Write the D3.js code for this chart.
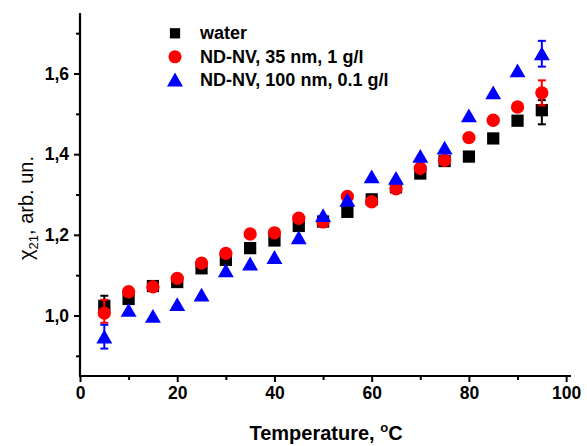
<!DOCTYPE html>
<html>
<head>
<meta charset="utf-8">
<script src="https://cdn.jsdelivr.net/npm/d3@7"></script>
<style>
  body { margin: 0; background: #fff; }
  svg text { font-family: "Liberation Sans", Arial, sans-serif; }
</style>
</head>
<body>
<div id="chart"></div>
<script>
// temperatures, deg C
var temps = [5, 10, 15, 20, 25, 30, 35, 40, 45, 50, 55, 60, 65, 70, 75, 80, 85, 90, 95];
// chi21 values
var water = [1.024, 1.041, 1.073, 1.083, 1.117, 1.138, 1.167, 1.186, 1.222, 1.233, 1.257, 1.288, 1.318, 1.352, 1.383, 1.394, 1.439, 1.483, 1.509];
var nd35 = [1.006, 1.059, 1.071, 1.092, 1.130, 1.154, 1.202, 1.205, 1.241, 1.232, 1.295, 1.282, 1.314, 1.365, 1.385, 1.441, 1.484, 1.517, 1.552];
var nd100 = [0.946, 1.012, 0.997, 1.026, 1.050, 1.110, 1.127, 1.143, 1.192, 1.247, 1.285, 1.343, 1.339, 1.394, 1.414, 1.494, 1.551, 1.606, 1.648];
// error bars only at first and last point: [temp, low, high]
var waterErr = [[5, 0.999, 1.049], [95, 1.474, 1.534]];
var nd35Err = [[5, 0.982, 1.039], [95, 1.521, 1.583]];
var nd100Err = [[5, 0.918, 0.977], [95, 1.617, 1.681]];
var seriesNames = ["water", "ND-NV, 35 nm, 1 g/l", "ND-NV, 100 nm, 0.1 g/l"];
var xTicks = [0, 20, 40, 60, 80, 100];
var yTicks = [1.0, 1.2, 1.4, 1.6];

var width = 587, height = 446;
var margin = {left: 80, top: 13, right: 17, bottom: 70};

var svg = d3.select("#chart").append("svg")
    .attr("width", width)
    .attr("height", height);

var x = d3.scaleLinear().domain([0, 101]).range([margin.left, 571]);
var y = d3.scaleLinear().domain([0.85, 1.75]).range([376, margin.top]);

// x axis
var xAxis = svg.append("g")
    .attr("transform", "translate(0,376)")
    .call(d3.axisBottom(x).tickValues(xTicks).tickSize(6).tickPadding(5).tickFormat(d3.format("d")));
svg.append("g")
    .attr("transform", "translate(0,376)")
    .call(d3.axisBottom(x).tickValues([10, 30, 50, 70, 90]).tickSize(4).tickFormat(""))
    .select(".domain").remove();

// y axis
var yAxis = svg.append("g")
    .attr("transform", "translate(" + margin.left + ",0)")
    .call(d3.axisLeft(y).tickValues(yTicks).tickSize(6).tickPadding(5)
        .tickFormat(function (d) { return d3.format(".1f")(d).replace(".", ","); }));
svg.append("g")
    .attr("transform", "translate(" + margin.left + ",0)")
    .call(d3.axisLeft(y).tickValues([0.9, 1.1, 1.3, 1.5, 1.7]).tickSize(4).tickFormat(""))
    .select(".domain").remove();

svg.selectAll(".domain").attr("stroke-width", 2.2);
xAxis.select(".domain").attr("d", "M" + (margin.left - 1) + ",0H571");
yAxis.select(".domain").attr("d", "M0,376V" + margin.top);
svg.selectAll(".tick line").attr("stroke-width", 2);
svg.selectAll(".tick text")
    .attr("font-size", 17.5)
    .attr("font-weight", "bold")
    .attr("fill", "#000");

// axis titles
svg.append("text")
    .attr("x", 326)
    .attr("y", 440)
    .attr("text-anchor", "middle")
    .attr("font-size", 20)
    .attr("font-weight", "bold")
    .html('Temperature, <tspan dy="-8" font-size="13">o</tspan><tspan dy="8">C</tspan>');

svg.append("text")
    .attr("transform", "translate(33,208) rotate(-90)")
    .attr("text-anchor", "middle")
    .attr("font-size", 20)
    .html('χ<tspan dy="5" font-size="13">21</tspan><tspan dy="-5">, arb. un.</tspan>');

var series = [
    {name: seriesNames[0], values: water, err: waterErr, color: "#000000", shape: d3.symbolSquare, size: 150, lsize: 105},
    {name: seriesNames[1], values: nd35, err: nd35Err, color: "#ff0000", shape: d3.symbolCircle, size: 140, lsize: 135},
    {name: seriesNames[2], values: nd100, err: nd100Err, color: "#0000ff", shape: d3.symbolTriangle, size: 110, lsize: 110}
];

series.forEach(function (s) {
    var g = svg.append("g");
    // error bars
    var eb = g.selectAll(".err").data(s.err).enter().append("g")
        .attr("stroke", s.color).attr("stroke-width", 2);
    eb.append("line")
        .attr("x1", function (d) { return x(d[0]); })
        .attr("x2", function (d) { return x(d[0]); })
        .attr("y1", function (d) { return y(d[1]); })
        .attr("y2", function (d) { return y(d[2]); });
    eb.append("line")
        .attr("x1", function (d) { return x(d[0]) - 4; })
        .attr("x2", function (d) { return x(d[0]) + 4; })
        .attr("y1", function (d) { return y(d[1]); })
        .attr("y2", function (d) { return y(d[1]); });
    eb.append("line")
        .attr("x1", function (d) { return x(d[0]) - 4; })
        .attr("x2", function (d) { return x(d[0]) + 4; })
        .attr("y1", function (d) { return y(d[2]); })
        .attr("y2", function (d) { return y(d[2]); });
    // markers
    g.selectAll("path.pt").data(s.values).enter().append("path")
        .attr("class", "pt")
        .attr("d", d3.symbol().type(s.shape).size(s.size))
        .attr("transform", function (d, i) {
            var dy = s.shape === d3.symbolTriangle ? 1.5 : 0;
            return "translate(" + x(temps[i]) + "," + (y(d) + dy) + ")";
        })
        .attr("fill", s.color);
});

// legend
var legend = svg.selectAll(".legend")
    .data(series)
    .enter().append("g")
    .attr("class", "legend")
    .attr("transform", function (d, i) {
        return "translate(175," + (33.3 + i * 23.5) + ")";
    });
legend.append("path")
    .attr("d", function (d) { return d3.symbol().type(d.shape).size(d.lsize)(); })
    .attr("transform", function (d) { return d.shape === d3.symbolTriangle ? "translate(0,1.5)" : null; })
    .attr("fill", function (d) { return d.color; });
legend.append("text")
    .attr("x", 25)
    .attr("y", 6)
    .attr("font-size", 18)
    .attr("font-weight", "bold")
    .text(function (d) { return d.name; });
</script>
</body>
</html>
